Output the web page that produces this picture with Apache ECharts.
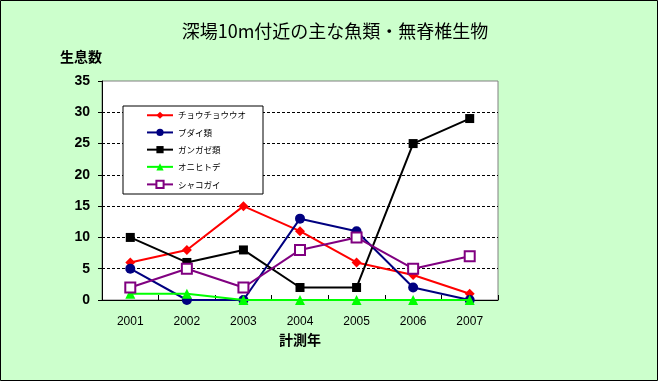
<!DOCTYPE html>
<html>
<head>
<meta charset="utf-8">
<script src="https://cdn.jsdelivr.net/npm/echarts@6/dist/echarts.min.js"></script>
<style>
html,body{margin:0;padding:0;background:#CCFFCC;}
#chart{width:658px;height:381px;}
</style>
</head>
<body>
<div id="chart"></div>
<script>
var titleText = '深場10m付近の主な魚類・無脊椎生物';
var yName = '生息数';
var xName = '計測年';
var years = ['2001', '2002', '2003', '2004', '2005', '2006', '2007'];
var seriesNames = ['チョウチョウウオ', 'ブダイ類', 'ガンガゼ類', 'オニヒトデ', 'シャコガイ'];
var chouchouuo = [6, 8, 15, 11, 6, 4, 1];
var budai = [5, 0, 0, 13, 11, 2, 0];
var gangaze = [10, 6, 8, 2, 2, 25, 29];
var onihitode = [1, 1, 0, 0, 0, 0, 0];
var shakogai = [2, 5, 2, 8, 10, 5, 7];

var FONT = '"Liberation Sans", "Noto Sans CJK JP", sans-serif';
var JFONT = '"Noto Sans CJK JP", "Liberation Sans", sans-serif';

var colors = ['#FF0000', '#000080', '#000000', '#00FF00', '#800080'];
var symbols = ['diamond', 'circle', 'rect', 'triangle', 'emptyRect'];
var sizes = [10, 10, 9, 10, 10];
var datas = [chouchouuo, budai, gangaze, onihitode, shakogai];

var series = seriesNames.map(function (n, i) {
  return {
    name: n,
    type: 'line',
    data: datas[i],
    symbol: symbols[i],
    symbolSize: sizes[i],
    showAllSymbol: true,
    lineStyle: { color: colors[i], width: 2 },
    itemStyle: { color: colors[i], borderColor: colors[i], borderWidth: i === 4 ? 1.2 : 0 },
    emphasis: { disabled: true },
    animation: false,
    z: 3 + i
  };
});

var chart = echarts.init(document.getElementById('chart'), null, { renderer: 'canvas' });
chart.setOption({
  backgroundColor: '#CCFFCC',
  animation: false,
  title: {
    text: titleText,
    left: 330,
    textAlign: 'center',
    top: 17,
    textStyle: { fontFamily: JFONT, fontSize: 18, fontWeight: 'normal', color: '#000' }
  },
  legend: {
    orient: 'vertical',
    left: 123,
    top: 106,
    backgroundColor: '#FFFFFF',
    borderColor: '#000000',
    borderWidth: 1,
    borderRadius: 0,
    padding: [5, 17, 5, 23],
    itemWidth: 26,
    itemHeight: 9,
    itemGap: 8.7,
    textStyle: { fontFamily: JFONT, fontSize: 8.5, color: '#000' },
    data: seriesNames
  },
  grid: {
    left: 102, top: 81, right: 160, bottom: 81,
    show: true, backgroundColor: '#FFFFFF', borderWidth: 1, borderColor: '#808080'
  },
  xAxis: {
    type: 'category',
    data: years,
    boundaryGap: true,
    name: xName,
    nameLocation: 'middle',
    nameGap: 33,
    nameTextStyle: { fontFamily: JFONT, fontSize: 14, fontWeight: 'bold', color: '#000' },
    axisLine: { lineStyle: { color: '#000', width: 1 } },
    axisTick: { show: true, inside: true, length: 5, lineStyle: { color: '#000' } },
    axisLabel: { fontFamily: FONT, fontSize: 12, color: '#000', margin: 16 },
    splitLine: { show: false }
  },
  yAxis: {
    type: 'value',
    min: 0,
    max: 35,
    interval: 5,
    name: yName,
    nameLocation: 'end',
    nameGap: 17,
    nameTextStyle: { fontFamily: JFONT, fontSize: 14, fontWeight: 'bold', color: '#000', align: 'right' },
    axisLine: { show: true, lineStyle: { color: '#000', width: 1 } },
    axisTick: { show: true, length: 4, lineStyle: { color: '#000' } },
    axisLabel: { fontFamily: FONT, fontSize: 14, fontWeight: 'bold', color: '#000', margin: 12 },
    splitLine: { show: true, showMinLine: false, showMaxLine: false, lineStyle: { color: '#000', type: [3, 2], width: 1 } }
  },
  graphic: [{
    type: 'rect',
    shape: { x: 0.5, y: 0.5, width: 657, height: 380 },
    style: { fill: null, stroke: '#000', lineWidth: 1 },
    silent: true,
    z: 100
  }],
  series: series
});
</script>
</body>
</html>
